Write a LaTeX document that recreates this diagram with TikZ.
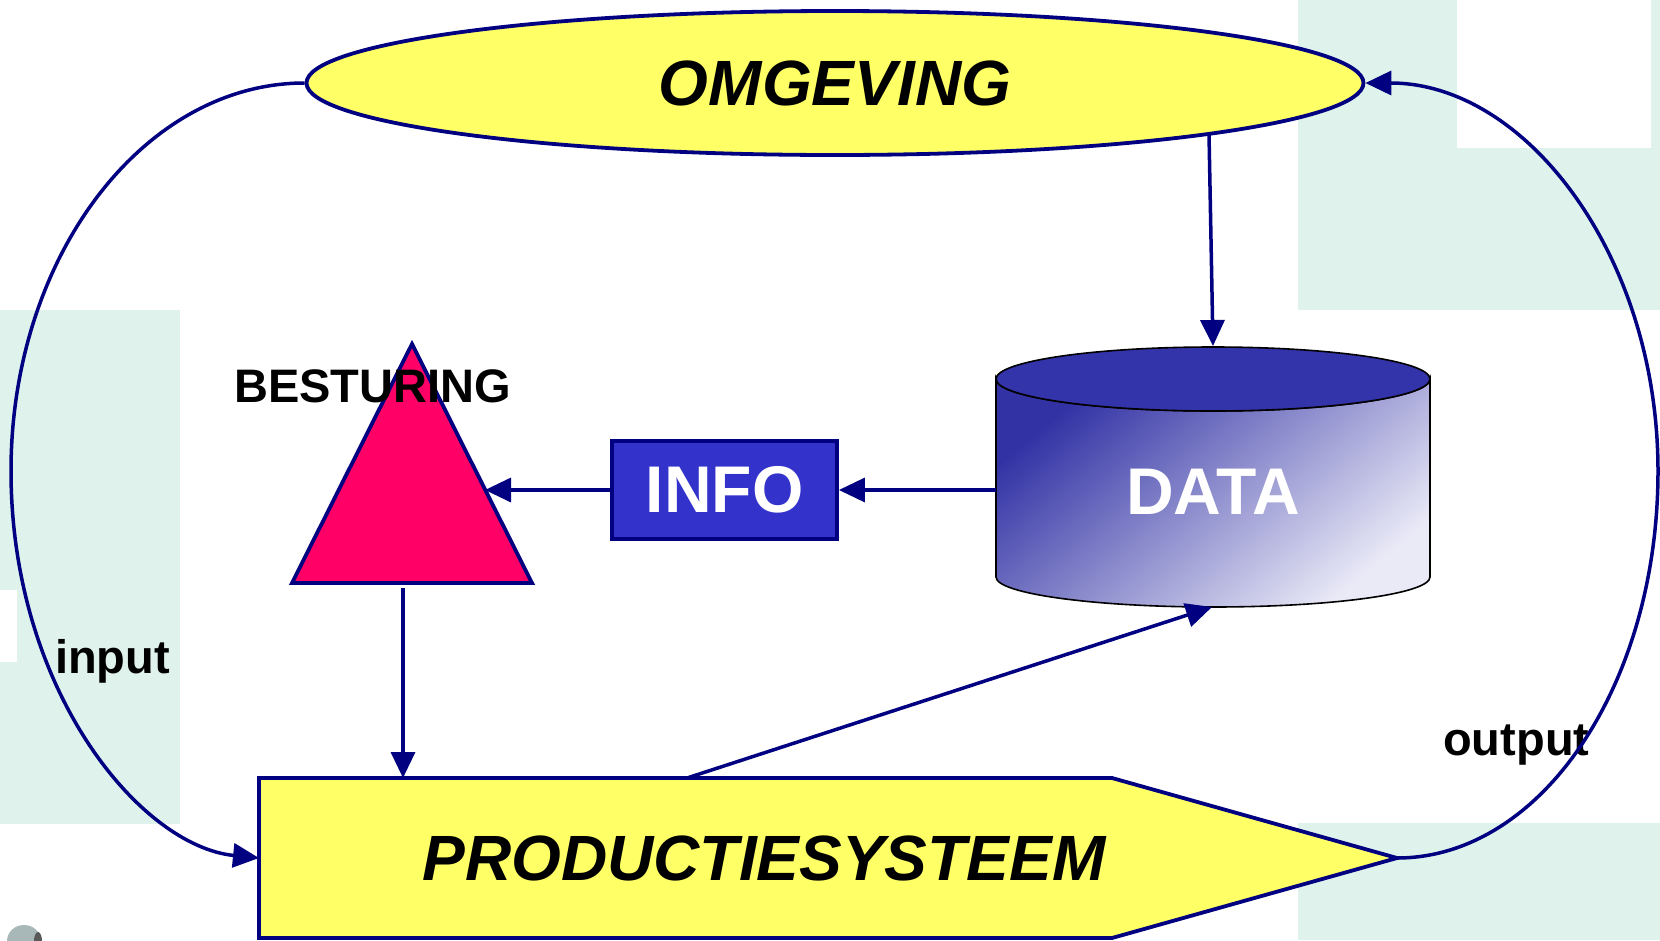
\documentclass[tikz,border=0pt]{standalone}
\usepackage{fontspec}
\setmainfont{Liberation Sans}
\usetikzlibrary{arrows.meta,shapes.geometric}
\definecolor{bgmint}{RGB}{224,242,236}
\definecolor{navy}{RGB}{0,0,128}
\definecolor{yel}{RGB}{255,255,102}
\definecolor{magen}{RGB}{255,0,102}
\definecolor{infoblue}{RGB}{51,51,204}
\definecolor{cyltop}{RGB}{51,51,170}
\definecolor{cyldark}{RGB}{50,50,165}
\definecolor{cylmid}{RGB}{165,165,210}
\definecolor{cyllight}{RGB}{234,234,247}
\definecolor{blob}{RGB}{168,184,184}
\begin{document}
\begin{tikzpicture}[x=1pt,y=-1pt,
  arr/.style={draw=navy, line width=3.5pt, -{Triangle[length=26pt,width=24pt]}},
  shapeline/.style={draw=navy, line width=3.8pt},
  bigbi/.style={font=\fontsize{64}{64}\selectfont\bfseries\itshape, inner sep=0pt},
  midb/.style={font=\fontsize{47}{47}\selectfont\bfseries, inner sep=0pt},
  whiteb/.style={font=\fontsize{66}{66}\selectfont\bfseries, text=white, inner sep=0pt}]
\useasboundingbox (0,0) rectangle (1660,940);
% background
\fill[white] (0,0) rectangle (1660,940);
\fill[bgmint] (0,310) rectangle (180,824);
\fill[white] (0,590) rectangle (17,662);
\fill[bgmint] (1298,0) rectangle (1660,310);
\fill[white] (1457,0) rectangle (1651,148);
\fill[bgmint] (1298,823) rectangle (1660,940);
\fill[blob] (24,941) ellipse [x radius=17, y radius=16];
\fill[gray!70!black] (38,941) ellipse [x radius=4, y radius=9];

% OMGEVING
\node[ellipse, shapeline, fill=yel, minimum width=1057pt, minimum height=144pt, bigbi] (omg) at (835,83) {OMGEVING};

% triangle BESTURING
\draw[shapeline, fill=magen] (412,344) -- (532,583) -- (292,583) -- cycle;
\coordinate (triR) at (485,490);
\coordinate (triB) at (403,588);
\node[midb] (best) at (372.5,386) {BESTURING};

% INFO
\node[rectangle, shapeline, fill=infoblue, minimum width=225pt, minimum height=98pt, whiteb] (info) at (724.5,490) {INFO};

% DATA cylinder
\shade[top color=cyldark, middle color=cylmid, bottom color=cyllight, shading angle=40, draw=black, line width=1.6pt]
  (996,379) -- (996,577) arc[start angle=180, end angle=0, x radius=217, y radius=30]
  -- (1430,379) arc[start angle=0, end angle=180, x radius=217, y radius=32] -- cycle;
\filldraw[fill=cyltop, draw=black, line width=1.6pt] (1213,379) ellipse [x radius=217, y radius=32];
\node[whiteb] (data) at (1213,492) {DATA};
\coordinate (dataTop) at (1213,346);
\coordinate (dataBot) at (1212,607);
\coordinate (dataL) at (996,490);
\coordinate (omgOut) at (1209,134);

% PRODUCTIESYSTEEM
\draw[shapeline, fill=yel] (259,778) -- (1112,778) -- (1397,858) -- (1112,938) -- (259,938) -- cycle;
\node[bigbi] (prod) at (764,858.5) {PRODUCTIESYSTEEM};
\coordinate (prodL) at (259,858);
\coordinate (prodTip) at (1397,858);
\coordinate (prodTopA) at (403,778);
\coordinate (prodTopB) at (687,778);

% labels
\node[midb, anchor=base west] (inp) at (55,673) {input};
\node[midb, anchor=base west] (outp) at (1443,755) {output};

% connectors
\draw[arr] (omgOut) -- (dataTop);
\draw[arr] (dataL) -- (info.east);
\draw[arr] (info.west) -- (triR);
\draw[arr] (triB) -- (prodTopA);
\draw[arr] (prodTopB) -- (dataBot);
\draw[arr] (omg.west) .. controls (144,83) and (11,256) .. (11,471)
  .. controls (11,690) and (140,846) .. (prodL);
\draw[arr] (prodTip) .. controls (1541,858) and (1658,685) .. (1658,471)
  .. controls (1658,256) and (1526,83) .. (omg.east);
\end{tikzpicture}
\end{document}
